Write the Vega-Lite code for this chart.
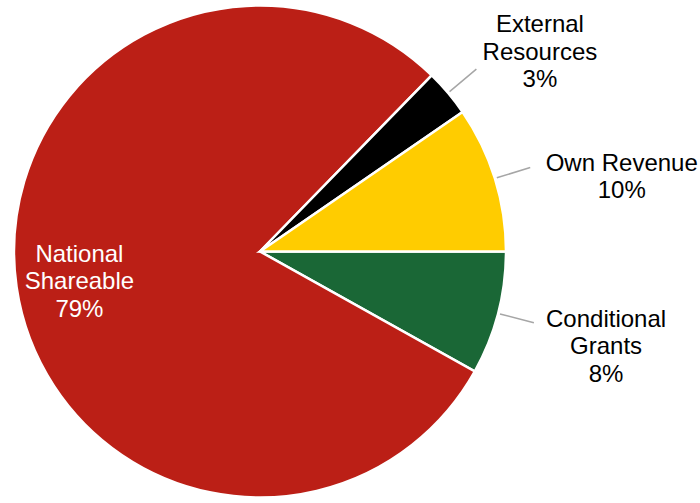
{
  "$schema": "https://vega.github.io/schema/vega-lite/v6.json",
  "width": 520,
  "height": 503,
  "autosize": "none",
  "padding": {"left": 0, "top": 0, "right": 180, "bottom": 0},
  "background": "white",
  "config": {"view": {"stroke": null}},
  "data": {"values": [
    {"category": "Conditional Grants", "value": 8.1, "ord": 1, "label": "Conditional|Grants|8%"},
    {"category": "National Shareable", "value": 79.2, "ord": 2, "label": "National|Shareable|79%"},
    {"category": "External Resources", "value": 3.1, "ord": 3, "label": "External|Resources|3%"},
    {"category": "Own Revenue", "value": 9.6, "ord": 4, "label": "Own Revenue|10%"}
  ]},
  "transform": [
    {"stack": "value", "groupby": [], "sort": [{"field": "ord", "order": "ascending"}], "as": ["s0", "s1"]},
    {"calculate": "(datum.s0 + datum.s1) / 2", "as": "mid"}
  ],
  "layer": [
    {
      "mark": {"type": "arc", "outerRadius": 246, "stroke": "white", "strokeWidth": 2.5},
      "encoding": {
        "theta": {"field": "s0", "type": "quantitative", "stack": null, "scale": {"domain": [0, 100], "range": [1.5707963, 7.8539816]}},
        "theta2": {"field": "s1"},
        "color": {"field": "category", "type": "nominal", "legend": null,
          "scale": {"domain": ["Conditional Grants", "National Shareable", "External Resources", "Own Revenue"],
                    "range": ["#1A6736", "#BB1F16", "#000000", "#FFCC00"]}}
      }
    },
    {
      "transform": [{"filter": "datum.ord != 2"}],
      "mark": {"type": "arc", "innerRadius": 248, "outerRadius": 283, "filled": false, "stroke": "#A6A6A6", "strokeWidth": 1.5},
      "encoding": {
        "theta": {"field": "mid", "type": "quantitative", "stack": null},
        "theta2": {"field": "mid"}
      }
    },
    {
      "transform": [{"filter": "datum.ord == 3"}],
      "mark": {"type": "text", "radius": 340, "dx": 20, "dy": -7, "lineBreak": "|", "font": "Liberation Sans", "fontSize": 24, "lineHeight": 27.5, "align": "center", "baseline": "middle", "color": "#000000"},
      "encoding": {
        "theta": {"field": "mid", "type": "quantitative", "stack": null},
        "text": {"field": "label"}
      }
    },
    {
      "transform": [{"filter": "datum.ord == 4"}],
      "mark": {"type": "text", "radius": 360, "dx": 18, "dy": 19, "lineBreak": "|", "font": "Liberation Sans", "fontSize": 24, "lineHeight": 27.5, "align": "center", "baseline": "middle", "color": "#000000"},
      "encoding": {
        "theta": {"field": "mid", "type": "quantitative", "stack": null},
        "text": {"field": "label"}
      }
    },
    {
      "transform": [{"filter": "datum.ord == 1"}],
      "mark": {"type": "text", "radius": 355, "dx": 2.5, "dy": -21, "lineBreak": "|", "font": "Liberation Sans", "fontSize": 24, "lineHeight": 27.5, "align": "center", "baseline": "middle", "color": "#000000"},
      "encoding": {
        "theta": {"field": "mid", "type": "quantitative", "stack": null},
        "text": {"field": "label"}
      }
    },
    {
      "transform": [{"filter": "datum.ord == 2"}],
      "mark": {"type": "text", "radius": 183, "dx": 0.5, "dy": -23, "lineBreak": "|", "font": "Liberation Sans", "fontSize": 24, "lineHeight": 27.5, "align": "center", "baseline": "middle", "color": "#FFFFFF"},
      "encoding": {
        "theta": {"field": "mid", "type": "quantitative", "stack": null},
        "text": {"field": "label"}
      }
    }
  ]
}
